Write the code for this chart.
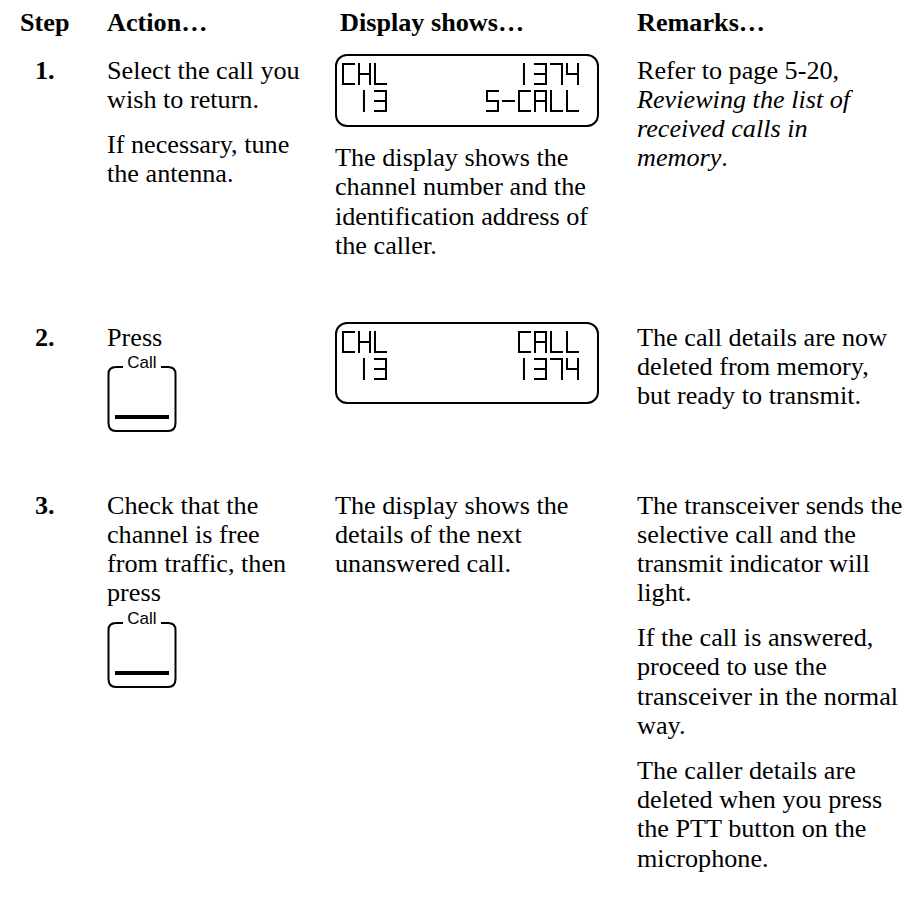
<!DOCTYPE html>
<html>
<head>
<meta charset="utf-8">
<script src="https://cdn.jsdelivr.net/npm/chart.js@4/dist/chart.umd.min.js"></script>
<style>
body { margin: 0; background: #fff; width: 907px; height: 897px; position: relative; overflow: hidden;
       font-family: "Liberation Serif", "Times New Roman", serif; font-size: 26.2px; color: #000 }
.blk { position: absolute; line-height: 29.3px; white-space: nowrap }
.blk p { margin: 0 0 15.5px 0 }
.bold { font-weight: bold }
svg { position: absolute; overflow: visible }
</style>
</head>
<body>
<script>
// page content
var headers = ['Step', 'Action\u2026', 'Display shows\u2026', 'Remarks\u2026']
var steps = ['1.', '2.', '3.']
var actions = [
    [['Select the call you', 'wish to return.'], ['If necessary, tune', 'the antenna.']],
    [['Press']],
    [['Check that the', 'channel is free', 'from traffic, then', 'press']]
]
var callButton = [false, true, true]
var lcdLines = [
    ['CHL        1374', ' 13      5-CALL'],
    ['CHL        CALL', ' 13        1374'],
    null
]
var displayNotes = [
    [['The display shows the', 'channel number and the', 'identification address of', 'the caller.']],
    [],
    [['The display shows the', 'details of the next', 'unanswered call.']]
]
var remarks = [
    [['Refer to page 5-20,', '<i>Reviewing the list of</i>', '<i>received calls in</i>', '<i>memory</i>.']],
    [['The call details are now', 'deleted from memory,', 'but ready to transmit.']],
    [['The transceiver sends the', 'selective call and the', 'transmit indicator will', 'light.'],
     ['If the call is answered,', 'proceed to use the', 'transceiver in the normal', 'way.'],
     ['The caller details are', 'deleted when you press', 'the PTT button on the', 'microphone.']]
]

// layout
var colX = [35, 107, 335, 637]
var headX = [20, 107, 340, 637]
var headTop = 7.5
var rowTop = [55.5, 322.5, 490.5]
var lineH = 29.3
var lcdBox = [[335, 54, 264, 73], [335, 322, 264, 82]]
var lcdRowY = [[64, 91], [332, 359]]
var noteTop = [143, 0, 490.5]

// segments of the LCD glyphs
var segs = {
    'C': 'adef', 'H': 'bcefg', 'L': 'def', 'A': 'abcefg', '1': 'i',
    '3': 'abcdg', '4': 'bcfg', '5': 'acdfg', '7': 'abc', '-': 'g', ' ': ''
}

function block(x, y, paras, cls) {
    var d = document.createElement('div')
    d.className = 'blk ' + (cls || '')
    d.style.left = x + 'px'
    d.style.top = y + 'px'
    d.innerHTML = paras.map(function (p) { return '<p>' + p.join('<br>') + '</p>' }).join('')
    document.body.appendChild(d)
}

function svg(x, y, w, h, inner) {
    var d = document.createElement('div')
    d.innerHTML = '<svg xmlns="http://www.w3.org/2000/svg" width="' + w + '" height="' + h + '" style="left:' + x + 'px;top:' + y + 'px">' + inner + '</svg>'
    document.body.appendChild(d.firstChild)
}

function glyph(ch, x, y) {
    var w = 11, h = 20, m = h / 2, s = ''
    var lines = {
        a: [0, 0, w, 0], b: [w, 0, w, m], c: [w, m, w, h], d: [0, h, w, h],
        e: [0, m, 0, h], f: [0, 0, 0, m], g: [0, m, w, m], i: [w * 0.45, 0, w * 0.45, h]
    }
    var list = segs[ch] || ''
    for (var i = 0; i < list.length; i++) {
        var l = lines[list[i]]
        s += '<line x1="' + (x + l[0]) + '" y1="' + (y + l[1]) + '" x2="' + (x + l[2]) + '" y2="' + (y + l[3]) + '"/>'
    }
    return s
}

function drawLcd(i) {
    var b = lcdBox[i], pitch = 16, inner = ''
    inner += '<rect x="1" y="1" width="' + (b[2] - 2) + '" height="' + (b[3] - 2) + '" rx="11" fill="none" stroke="#000" stroke-width="2"/>'
    inner += '<g stroke="#000" stroke-width="2" stroke-linecap="square">'
    lcdLines[i].forEach(function (txt, r) {
        for (var c = 0; c < txt.length; c++) {
            inner += glyph(txt[c], 8 + c * pitch, lcdRowY[i][r] - b[1])
        }
    })
    inner += '</g>'
    svg(b[0], b[1], b[2], b[3], inner)
}

function drawCallButton(x, labelY) {
    var inner = ''
    inner += '<text x="35" y="10" text-anchor="middle" dominant-baseline="central" font-family="Liberation Sans, Arial, sans-serif" font-size="17">Call</text>'
    inner += '<path d="M16 15 L9 15 Q1.5 15 1.5 22 L1.5 71 Q1.5 79 9 79 L61 79 Q68.5 79 68.5 71 L68.5 22 Q68.5 15 61 15 L54 15" fill="none" stroke="#000" stroke-width="2"/>'
    inner += '<rect x="8" y="63" width="54" height="4" fill="#000"/>'
    svg(x, labelY - 10, 72, 82, inner)
}

headers.forEach(function (h, i) {
    block(headX[i], headTop, [[h]], 'bold')
})

steps.forEach(function (s, i) {
    block(colX[0], rowTop[i], [[s]], 'bold')
    block(colX[1], rowTop[i], actions[i])
    if (callButton[i]) {
        var last = actions[i][actions[i].length - 1]
        drawCallButton(colX[1], rowTop[i] + lineH * (last.length - 1) + 23.5 + 16)
    }
    if (lcdLines[i]) drawLcd(i)
    if (displayNotes[i].length) block(colX[2], noteTop[i], displayNotes[i])
    block(colX[3], rowTop[i], remarks[i])
})
</script>
</body>
</html>
